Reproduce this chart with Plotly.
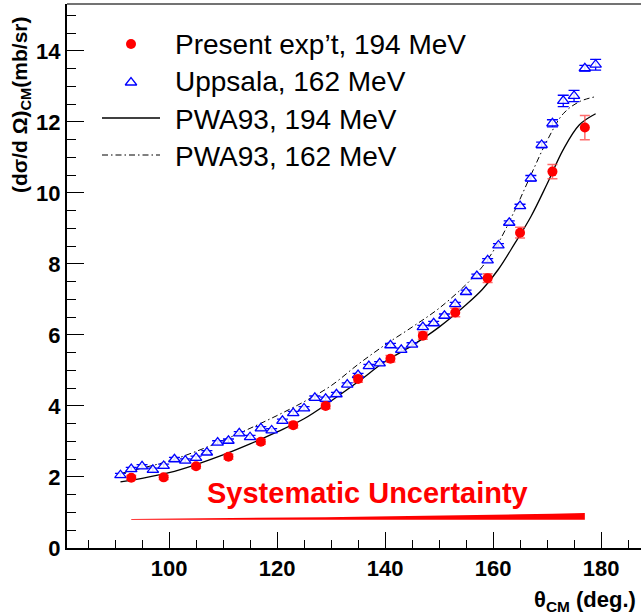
import plotly.graph_objects as go

# ---------------- data ----------------
exp_theta = [93, 99, 105, 111, 117, 123, 129, 135, 141, 147, 153, 159, 165, 171, 177]
exp_xs = [1.98, 1.99, 2.30, 2.57, 2.99, 3.46, 4.00, 4.76, 5.33, 5.98, 6.63, 7.60, 8.88, 10.60, 11.84]
exp_err = [0.06, 0.06, 0.06, 0.07, 0.07, 0.08, 0.08, 0.09, 0.09, 0.10, 0.12, 0.12, 0.15, 0.20, 0.34]

upp_theta = list(range(91, 180, 2))
upp_xs = [2.05, 2.22, 2.30, 2.20, 2.31, 2.50, 2.46, 2.54, 2.69, 2.97,
          3.02, 3.23, 3.12, 3.37, 3.31, 3.58, 3.80, 3.93, 4.23, 4.20,
          4.33, 4.60, 4.87, 5.12, 5.20, 5.71, 5.58, 5.73, 6.22, 6.33,
          6.54, 6.87, 7.21, 7.66, 8.10, 8.52, 9.16, 9.63, 10.41, 11.35,
          11.96, 12.59, 12.73, 13.51, 13.61]
upp_err = [0.05] * 38 + [0.08, 0.08, 0.10, 0.16, 0.16, 0.08, 0.15]

pwa194_theta = [91, 95, 100, 105, 110, 115, 120, 125, 130, 135, 140, 145, 150,
                155, 158, 161, 164, 167, 170, 173, 176, 179]
pwa194_xs = [1.86, 1.96, 2.12, 2.35, 2.62, 2.93, 3.27, 3.64, 4.14, 4.68, 5.25, 5.70, 6.22,
             6.85, 7.28, 7.85, 8.57, 9.33, 10.25, 11.22, 11.92, 12.23]

pwa162_theta = [91, 95, 100, 105, 110, 115, 120, 125, 130, 135, 140, 145, 150,
                155, 158, 161, 164, 167, 170, 173, 176, 179]
pwa162_xs = [2.10, 2.25, 2.45, 2.72, 3.03, 3.37, 3.73, 4.12, 4.57, 5.17, 5.72, 6.22, 6.75,
             7.42, 7.92, 8.60, 9.50, 10.50, 11.47, 12.23, 12.57, 12.71]

sys_theta = exp_theta
sys_unc = [0.02, 0.025, 0.03, 0.04, 0.05, 0.06, 0.07, 0.08, 0.09, 0.105,
           0.12, 0.135, 0.15, 0.17, 0.19]

legend_labels = ["Present exp\u2019t, 194 MeV", "Uppsala, 162 MeV",
                 "PWA93, 194 MeV", "PWA93, 162 MeV"]
x_ticks = [100, 120, 140, 160, 180]
y_ticks = [0, 2, 4, 6, 8, 10, 12, 14]

# ---------------- layout constants ----------------
W, H = 641, 614
L, R, T, B = 67, 0, 4, 66
SYS_BASE = 0.797
FONT = "Liberation Sans"
RED = "rgb(255,0,0)"
BLUE = "rgb(0,0,255)"
DASHDOT = "6px,3px,1.5px,3px"

fig = go.Figure()

# systematic uncertainty band
fig.add_trace(go.Scatter(x=sys_theta, y=[SYS_BASE] * len(sys_theta), mode="lines",
                         line=dict(width=0, color=RED), hoverinfo="skip"))
fig.add_trace(go.Scatter(x=sys_theta, y=[SYS_BASE + u for u in sys_unc], mode="lines",
                         line=dict(width=0, color=RED), fill="tonexty", fillcolor=RED,
                         hoverinfo="skip"))

# curves
fig.add_trace(go.Scatter(x=pwa162_theta, y=pwa162_xs, mode="lines", line_shape="spline",
                         line=dict(color="black", width=1, dash=DASHDOT),
                         name=legend_labels[3]))
fig.add_trace(go.Scatter(x=pwa194_theta, y=pwa194_xs, mode="lines", line_shape="spline",
                         line=dict(color="black", width=1.3), name=legend_labels[2]))

# Uppsala
fig.add_trace(go.Scatter(x=upp_theta, y=upp_xs, mode="markers", name=legend_labels[1],
                         marker=dict(symbol="triangle-up", size=10, color="rgba(255,255,255,0.85)",
                                     line=dict(width=1.3, color=BLUE)),
                         error_y=dict(type="data", array=upp_err, color=BLUE,
                                      thickness=1.3, width=5.5)))
# present experiment
fig.add_trace(go.Scatter(x=exp_theta, y=exp_xs, mode="markers", name=legend_labels[0],
                         marker=dict(symbol="circle", size=10, color=RED),
                         error_y=dict(type="data", array=exp_err,
                                      color="rgba(255,60,60,0.75)", thickness=1.5, width=5)))

# ---------------- manual legend (pixel-coordinate overlay axes) ----------------
leg_rows = [44, 81.5, 119, 156]
fig.add_trace(go.Scatter(x=[131], y=[leg_rows[0]], xaxis="x2", yaxis="y2", mode="markers",
                         marker=dict(symbol="circle", size=10, color=RED), hoverinfo="skip"))
fig.add_trace(go.Scatter(x=[131], y=[leg_rows[1] + 1], xaxis="x2", yaxis="y2", mode="markers",
                         marker=dict(symbol="triangle-up-open", size=10, color=BLUE,
                                     line=dict(width=1.3, color=BLUE)), hoverinfo="skip"))
fig.add_trace(go.Scatter(x=[102, 160], y=[leg_rows[2] - 1, leg_rows[2] - 1], xaxis="x2",
                         yaxis="y2", mode="lines", line=dict(color="black", width=1.3),
                         hoverinfo="skip"))
fig.add_trace(go.Scatter(x=[102, 160], y=[leg_rows[3] - 1, leg_rows[3] - 1], xaxis="x2",
                         yaxis="y2", mode="lines",
                         line=dict(color="black", width=1, dash=DASHDOT),
                         hoverinfo="skip"))

annotations = []
for lab, yy in zip(legend_labels, leg_rows):
    annotations.append(dict(x=173, y=yy, xref="x2", yref="y2", text=lab, showarrow=False,
                            xanchor="left", yanchor="middle",
                            font=dict(family=FONT, size=28, color="black")))


def px(xp):
    return (xp - L) / (W - L - R)


def py(yp):
    return (H - B - yp) / (H - B - T)


annotations.append(dict(x=px(367.5), y=py(493), xref="paper", yref="paper",
                        text="<b>Systematic Uncertainty</b>", showarrow=False,
                        xanchor="center", yanchor="middle",
                        font=dict(family=FONT, size=29, color=RED)))
annotations.append(dict(x=px(21), y=py(105), xref="paper", yref="paper",
                        text="<b>(d\u03c3/d \u03a9)<sub>CM</sub>(mb/sr)</b>", textangle=-90,
                        showarrow=False, xanchor="center", yanchor="middle",
                        font=dict(family=FONT, size=21, color="black")))
annotations.append(dict(x=px(638), y=py(601), xref="paper", yref="paper",
                        text="<b>\u03b8<sub>CM</sub> (deg.)</b>",
                        showarrow=False, xanchor="right", yanchor="middle",
                        font=dict(family=FONT, size=22, color="black")))

tickfont = dict(family=FONT, size=22, color="black", weight="bold")

fig.update_layout(
    width=W, height=H, margin=dict(l=L, r=R, t=T, b=B),
    paper_bgcolor="white", plot_bgcolor="white", showlegend=False,
    hovermode=False,
    annotations=annotations,
    xaxis=dict(range=[81.1, 187.4], tickvals=x_ticks, ticktext=[str(v) for v in x_ticks],
               ticks="inside", ticklen=16, tickwidth=1.2, tickcolor="black",
               showline=True, linewidth=2, linecolor="black", showgrid=False,
               zeroline=False, tickfont=tickfont,
               minor=dict(dtick=5, tick0=0, ticks="inside", ticklen=8, tickwidth=1.2,
                          tickcolor="black", showgrid=False)),
    yaxis=dict(range=[0, 15.32], tickvals=y_ticks, ticktext=[str(v) for v in y_ticks],
               ticks="inside", ticklen=17, tickwidth=1.2, tickcolor="black",
               showline=True, linewidth=2, linecolor="black", showgrid=False,
               zeroline=False, tickfont=tickfont,
               minor=dict(dtick=0.5, tick0=0, ticks="inside", ticklen=9, tickwidth=1.2,
                          tickcolor="black", showgrid=False)),
    xaxis2=dict(overlaying="x", range=[L, W - R], visible=False, anchor="y2"),
    yaxis2=dict(overlaying="y", range=[H - B, T], visible=False, anchor="x2"),
    shapes=[dict(type="line", xref="paper", yref="paper", x0=0, x1=1, y0=1, y1=1,
                 line=dict(color="#444444", width=1.5))],
)

fig.write_html("out.html",
               config={"displayModeBar": False},
               post_script="document.body.style.margin='0px';"
                           "document.body.style.overflow='hidden';")
